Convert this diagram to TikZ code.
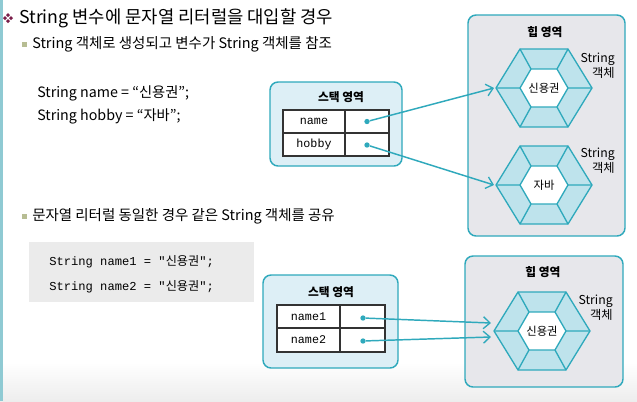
\documentclass[tikz,border=0pt]{standalone}
\usepackage{fontspec}
\setmainfont{Noto Sans CJK KR}
\newfontfamily\krfont{Noto Sans CJK KR}
\newfontfamily\codefont{Liberation Mono}
\usetikzlibrary{arrows.meta}
\definecolor{tealc}{HTML}{2FA9BC}
\definecolor{stackfill}{HTML}{DDEFF6}
\definecolor{heapfill}{HTML}{E7E7EB}
\definecolor{ringfill}{HTML}{BEE3EC}
\definecolor{codefill}{HTML}{EBEBEB}
\definecolor{maroon}{HTML}{7A1D49}
\definecolor{olivebul}{HTML}{B7BD93}
\definecolor{edgec}{HTML}{8FCAD3}
\tikzset{
  x=0.75pt, y=-0.75pt,
  stackbox/.style={draw=tealc, line width=1.1pt, fill=stackfill, rounded corners=6pt},
  heapbox/.style={draw=tealc, line width=1.1pt, fill=heapfill, rounded corners=6pt},
  areatitle/.style={font=\fontsize{8.8}{10}\selectfont\bfseries, inner sep=0pt},
  celltext/.style={font=\codefont\fontsize{8.8}{10}\selectfont, inner sep=0pt},
  dotnode/.style={circle, fill=tealc, inner sep=0pt, minimum size=4pt},
  conn/.style={draw=tealc, line width=1.1pt, -{Straight Barb[length=5pt,width=9pt,line width=1pt]}},
  hexline/.style={draw=tealc, line width=1pt, line join=round},
  hexlabel/.style={font=\fontsize{8.5}{10}\selectfont, inner sep=0pt},
  objlabel/.style={font=\fontsize{9.2}{11.2}\selectfont, align=right, inner sep=0pt},
  bodytext/.style={font=\fontsize{10.85}{12}\selectfont, inner sep=0pt, anchor=west},
  codeone/.style={font=\fontsize{10.7}{13}\selectfont, inner sep=0pt, anchor=west},
  codetwo/.style={font=\fontsize{9.1}{11}\selectfont, inner sep=0pt, anchor=west},
}
\newcommand\drawhexobj[4]{%
  \begin{scope}[shift={(#1,#2)}]
    \fill[ringfill] (-48,0)--(-24,-39)--(24,-39)--(48,0)--(24,39)--(-24,39)--cycle;
    \fill[white] (-24,0)--(-13,-19)--(13,-19)--(24,0)--(13,19)--(-13,19)--cycle;
    \draw[hexline] (-48,0)--(-24,-39)--(24,-39)--(48,0)--(24,39)--(-24,39)--cycle;
    \draw[hexline] (-24,0)--(-13,-19)--(13,-19)--(24,0)--(13,19)--(-13,19)--cycle;
    \draw[hexline] (-48,0)--(-24,0) (-24,-39)--(-13,-19) (24,-39)--(13,-19)
                   (48,0)--(24,0) (24,39)--(13,19) (-24,39)--(-13,19);
    \node[hexlabel] (#4) at (0,0) {#3};
  \end{scope}}
\begin{document}
\begin{tikzpicture}
\useasboundingbox (0,0) rectangle (637,401);
\fill[white] (0,0) rectangle (637,401);
\shade[top color=white, bottom color=black!7] (0,362) rectangle (637,401);
\fill[edgec] (0,0) rectangle (3,401);

% title
\foreach \dx/\dy in {-3/0,3/0,0/-3,0/3}
  \fill[maroon] (8+\dx,18+\dy) +(-2,0) -- +(0,-2) -- +(2,0) -- +(0,2) -- cycle;
\node[font=\fontsize{13.3}{15}\selectfont, inner sep=0pt, anchor=west] (title) at (19,18) {String 변수에 문자열 리터럴을 대입할 경우};

% section 1
\fill[olivebul] (22,41.5) rectangle (27,46.5);
\node[bodytext] (sub1) at (32,44) {String 객체로 생성되고 변수가 String 객체를 참조};
\node[codeone] (code1a) at (37,93) {String name = “신용권”;};
\node[codeone] (code1b) at (37,116) {String hobby = “자바”;};

% stack 1
\path[stackbox] (270,82) rectangle (402,166);
\node[areatitle] (st1) at (341,97) {스택 영역};
\fill[white] (283,110) rectangle (389,156);
\draw[line width=0.8pt, black!80] (283,110) rectangle (389,156) (283,133)--(389,133) (345,110)--(345,156);
\node[celltext] (c1n) at (314,121.5) {name};
\node[celltext] (c1h) at (314,144.5) {hobby};
\node[dotnode] (d1) at (367,121.5) {};
\node[dotnode] (d2) at (367,145) {};

% heap 1
\path[heapbox] (468,15) rectangle (625,236);
\node[areatitle] (hp1) at (545,32) {힙 영역};
\drawhexobj{544}{88}{신용권}{hx1}
\drawhexobj{544}{185}{자바}{hx2}
\coordinate (hx1w) at (494,88);
\coordinate (hx2w) at (494,185);
\node[objlabel, anchor=east] (ol1) at (615,65.5) {String\\객체};
\node[objlabel, anchor=east] (ol2) at (615,161) {String\\객체};
\draw[conn] (d1) -- (hx1w);
\draw[conn] (d2) -- (hx2w);

% section 2
\fill[olivebul] (22,213.5) rectangle (27,218.5);
\node[bodytext] (sub2) at (32,216) {문자열 리터럴 동일한 경우 같은 String 객체를 공유};
\fill[codefill] (29,242) rectangle (254,302);
\node[codetwo] (code2a) at (49,262) {{\codefont String name1 = "}{\krfont 신용권}{\codefont ";}};
\node[codetwo] (code2b) at (49,287) {{\codefont String name2 = "}{\krfont 신용권}{\codefont ";}};

% stack 2
\path[stackbox] (263,275) rectangle (398,368);
\node[areatitle] (st2) at (331,292) {스택 영역};
\fill[white] (277,305) rectangle (385,352);
\draw[line width=0.8pt, black!80] (277,305) rectangle (385,352) (277,328)--(385,328) (340,305)--(340,352);
\node[celltext] (c2a) at (308.5,317) {name1};
\node[celltext] (c2b) at (308.5,340) {name2};
\node[dotnode] (d3) at (363,318) {};
\node[dotnode] (d4) at (363,341) {};

% heap 2
\path[heapbox] (465,256) rectangle (623,387);
\node[areatitle] (hp2) at (543,272) {힙 영역};
\drawhexobj{542}{331}{신용권}{hx3}
\coordinate (hx3a) at (491,323);
\coordinate (hx3b) at (491,337);
\node[objlabel, anchor=east] (ol3) at (613,307.5) {String\\객체};
\draw[conn] (d3) -- (hx3a);
\draw[conn] (d4) -- (hx3b);
\end{tikzpicture}
\end{document}
